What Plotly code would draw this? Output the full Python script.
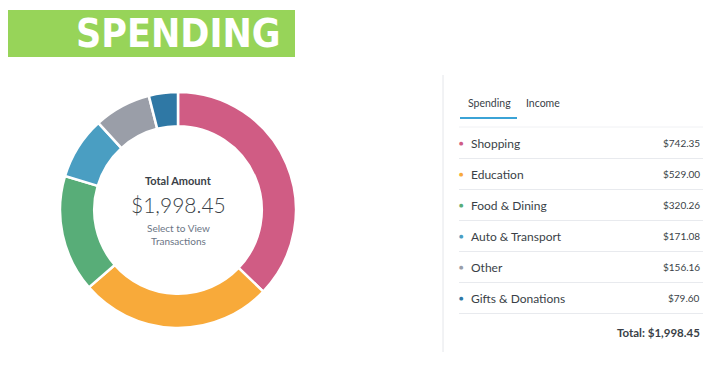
import plotly.graph_objects as go

categories = ["Shopping", "Education", "Food & Dining", "Auto & Transport", "Other", "Gifts & Donations"]
values = [742.35, 529.00, 320.26, 171.08, 156.16, 79.60]
colors = ["#D05C84", "#F8AA3A", "#58AD78", "#4A9EC2", "#9A9EA8", "#2F78A5"]
title_text = "SPENDING"

OFF = 8  # page body margin
W, H = 720 - OFF, 380 - OFF
total = sum(values)

def py(p):
    return 1 - (p - OFF) / H

def px(p):
    return (p - OFF) / W

fig = go.Figure()
fig.add_trace(go.Pie(
    labels=categories, values=values, hole=0.71, sort=False, direction="clockwise",
    rotation=0, marker=dict(colors=colors, line=dict(color="white", width=2.5)),
    textinfo="none", hoverinfo="label+value", showlegend=False,
    domain=dict(x=[px(60), px(296)], y=[py(328), py(92)]),
))

shapes = []
ann = []
# banner
shapes.append(dict(type="rect", xref="paper", yref="paper", x0=px(-20), x1=px(295), y0=py(57), y1=py(10),
                   fillcolor="#97D459", line=dict(width=0), layer="below"))
ann.append(dict(text="<b>" + title_text + "</b>", x=px(178), y=py(34), xref="paper", yref="paper",
                showarrow=False, font=dict(family="DejaVu Sans Condensed", size=39, color="white"),
                xanchor="center", yanchor="middle"))
# center text
cx = px(178)
ann.append(dict(text="<b>Total Amount</b>", x=cx, y=py(180), xref="paper", yref="paper", showarrow=False,
                font=dict(family="Lato", size=11, color="#3A3F47"), xanchor="center", yanchor="middle"))
ann.append(dict(text="${:,.2f}".format(total), x=cx, y=py(204), xref="paper", yref="paper", showarrow=False,
                font=dict(family="Lato", size=21, color="#3A3F47", weight=300), xanchor="center", yanchor="middle"))
ann.append(dict(text="Select to View<br>Transactions", x=cx, y=py(234), xref="paper", yref="paper", showarrow=False,
                font=dict(family="Lato", size=10, color="#6B7585"), xanchor="center", yanchor="middle"))

# right panel
shapes.append(dict(type="line", xref="paper", yref="paper", x0=px(443), x1=px(443), y0=py(75), y1=py(352),
                   line=dict(color="#E4E6EA", width=1)))
ann.append(dict(text="Spending", x=px(489), y=py(103), xref="paper", yref="paper", showarrow=False,
                font=dict(family="Lato", size=10.5, color="#3A3F47"), xanchor="center", yanchor="middle"))
ann.append(dict(text="Income", x=px(543), y=py(103), xref="paper", yref="paper", showarrow=False,
                font=dict(family="Lato", size=10.5, color="#3A3F47"), xanchor="center", yanchor="middle"))
shapes.append(dict(type="line", xref="paper", yref="paper", x0=px(460), x1=px(517), y0=py(118), y1=py(118),
                   line=dict(color="#3BA3D6", width=2)))
shapes.append(dict(type="line", xref="paper", yref="paper", x0=px(459), x1=px(703), y0=py(127), y1=py(127),
                   line=dict(color="#F0F1F4", width=1)))

row0, step = 143, 31
for i, (c, v, col) in enumerate(zip(categories, values, colors)):
    yc = row0 + i * step
    ann.append(dict(text="●", x=px(461), y=py(yc), xref="paper", yref="paper", showarrow=False,
                    font=dict(family="DejaVu Sans", size=5, color=col), xanchor="center", yanchor="middle"))
    ann.append(dict(text=c, x=px(469), y=py(yc), xref="paper", yref="paper", showarrow=False,
                    font=dict(family="Lato", size=12, color="#3A3F47"), xanchor="left", yanchor="middle"))
    ann.append(dict(text="${:,.2f}".format(v), x=px(702), y=py(yc), xref="paper", yref="paper", showarrow=False,
                    font=dict(family="Lato", size=10, color="#3A3F47"), xanchor="right", yanchor="middle"))
    shapes.append(dict(type="line", xref="paper", yref="paper", x0=px(459), x1=px(703),
                       y0=py(yc + 15.5), y1=py(yc + 15.5), line=dict(color="#E8EAEE", width=1)))

ann.append(dict(text="<b>Total: ${:,.2f}</b>".format(total), x=px(702), y=py(332), xref="paper", yref="paper",
                showarrow=False, font=dict(family="Lato", size=11.5, color="#3A3F47"), xanchor="right", yanchor="middle"))

fig.update_layout(width=W, height=H, margin=dict(l=0, r=0, t=0, b=0), paper_bgcolor="white",
                  plot_bgcolor="white", shapes=shapes, annotations=ann)
fig.write_html("out.html")
